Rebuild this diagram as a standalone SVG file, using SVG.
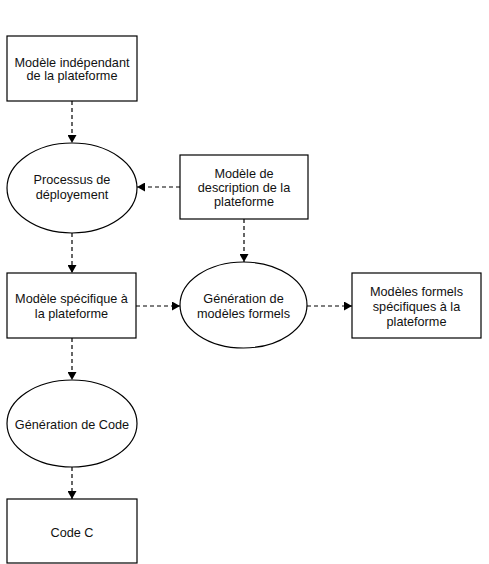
<svg xmlns="http://www.w3.org/2000/svg" width="489" height="564" viewBox="0 0 489 564">
<defs>
<marker id="ah" markerWidth="9" markerHeight="9" refX="8" refY="4.5" orient="auto" markerUnits="userSpaceOnUse">
<path d="M0,0 L8,4.5 L0,9 Z" fill="#000"/>
</marker>
<style>
.n{fill:#fff;stroke:#000;stroke-width:1.2}
.t{font-family:"Liberation Sans",Arial,sans-serif;font-size:12.7px;fill:#111;text-anchor:middle}
.c{fill:none;stroke:#000;stroke-width:1.2;stroke-dasharray:4,3;marker-end:url(#ah)}
</style>
</defs>
<rect width="489" height="564" fill="#fff"/>
<g id="connectors">
<line class="c" x1="72" y1="101" x2="72" y2="143"/>
<line class="c" x1="180" y1="187" x2="137" y2="187"/>
<line class="c" x1="244" y1="219" x2="244" y2="262"/>
<line class="c" x1="72" y1="233" x2="72" y2="273"/>
<line class="c" x1="136" y1="306" x2="180" y2="306"/>
<line class="c" x1="307" y1="306" x2="352" y2="306"/>
<line class="c" x1="72" y1="338" x2="72" y2="380"/>
<line class="c" x1="72" y1="467" x2="72" y2="499"/>
</g>
<g id="n1">
<rect class="n" x="7" y="36" width="130" height="65"/>
<text class="t" x="72" y="66.5">Modèle indépendant</text>
<text class="t" x="72" y="80">de la plateforme</text>
</g>
<g id="n2">
<ellipse class="n" cx="72" cy="188" rx="65" ry="45"/>
<text class="t" x="72" y="183.5">Processus de</text>
<text class="t" x="72" y="198.5">déployement</text>
</g>
<g id="n3">
<rect class="n" x="180" y="155" width="128" height="64"/>
<text class="t" x="244" y="177.5">Modèle de</text>
<text class="t" x="244" y="191.5">description de la</text>
<text class="t" x="244" y="206">plateforme</text>
</g>
<g id="n4">
<rect class="n" x="7" y="273" width="129" height="65"/>
<text class="t" x="71.5" y="302.5">Modèle spécifique à</text>
<text class="t" x="71.5" y="317.5">la plateforme</text>
</g>
<g id="n5">
<ellipse class="n" cx="243.5" cy="305" rx="63.5" ry="43"/>
<text class="t" x="243.5" y="302.5">Génération de</text>
<text class="t" x="243.5" y="317.5">modèles formels</text>
</g>
<g id="n6">
<rect class="n" x="352" y="273" width="129" height="65"/>
<text class="t" x="416.5" y="295.5">Modèles formels</text>
<text class="t" x="416.5" y="310.5">spécifiques à la</text>
<text class="t" x="416.5" y="325.5">plateforme</text>
</g>
<g id="n7">
<ellipse class="n" cx="72" cy="423.5" rx="65" ry="43.5"/>
<text class="t" x="72" y="428.5">Génération de Code</text>
</g>
<g id="n8">
<rect class="n" x="7" y="499" width="130" height="64"/>
<text class="t" x="72" y="536.5">Code C</text>
</g>
</svg>
